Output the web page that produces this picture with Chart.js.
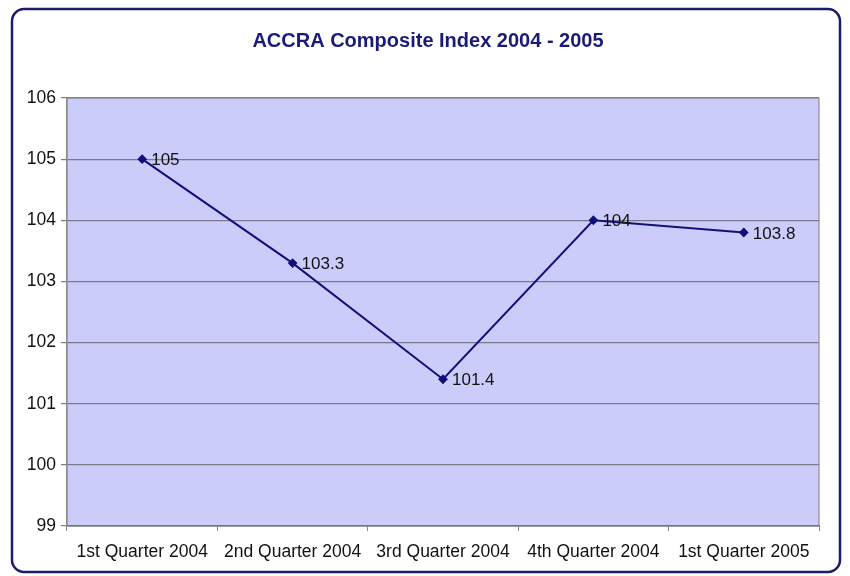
<!DOCTYPE html>
<html>
<head>
<meta charset="utf-8">
<style>
  html, body { margin: 0; padding: 0; background: #ffffff; }
  #wrap { width: 850px; height: 576px; position: relative; }
</style>
<script src="https://cdn.jsdelivr.net/npm/chart.js@4.4.0/dist/chart.umd.min.js"></script>
</head>
<body>
<div id="wrap"><canvas id="c" width="850" height="576"></canvas></div>
<script>
const chartTitle = "ACCRA Composite Index 2004 - 2005";
const categories = ["1st Quarter 2004", "2nd Quarter 2004", "3rd Quarter 2004", "4th Quarter 2004", "1st Quarter 2005"];
const indexValues = [105, 103.3, 101.4, 104, 103.8];
const yMin = 99;
const yMax = 106;
const yStep = 1;

const FONT = "Arial, 'Liberation Sans', sans-serif";

const frameAndArea = {
  id: 'frameAndArea',
  beforeDraw(chart) {
    const ctx = chart.ctx;
    const a = chart.chartArea;
    ctx.save();
    ctx.fillStyle = '#ffffff';
    ctx.fillRect(0, 0, chart.width, chart.height);
    ctx.fillStyle = '#ccccfa';
    ctx.fillRect(a.left, a.top, a.right - a.left, a.bottom - a.top);
    ctx.restore();
  },
  afterDraw(chart) {
    const ctx = chart.ctx;
    const a = chart.chartArea;
    ctx.save();
    ctx.strokeStyle = '#8a8a8a';
    ctx.lineWidth = 1.2;
    ctx.strokeRect(a.left, a.top, a.right - a.left, a.bottom - a.top);
    ctx.strokeStyle = '#1c1c6e';
    ctx.lineWidth = 2.5;
    ctx.beginPath();
    ctx.roundRect(12, 9, 828, 563, 12);
    ctx.stroke();
    // chart title, centred on the outer frame
    ctx.fillStyle = '#1a1a78';
    ctx.font = 'bold 20px ' + FONT;
    ctx.textAlign = 'center';
    ctx.textBaseline = 'middle';
    ctx.fillText(chartTitle, 428, 41);
    ctx.restore();
  }
};

const valueLabels = {
  id: 'valueLabels',
  afterDatasetsDraw(chart) {
    const ctx = chart.ctx;
    const meta = chart.getDatasetMeta(0);
    const data = chart.data.datasets[0].data;
    ctx.save();
    ctx.font = '17px ' + FONT;
    ctx.fillStyle = '#111111';
    ctx.textAlign = 'left';
    ctx.textBaseline = 'middle';
    meta.data.forEach((pt, i) => {
      ctx.fillText(String(data[i]), pt.x + 9, pt.y + 1.5);
    });
    ctx.restore();
  }
};

new Chart(document.getElementById('c'), {
  type: 'line',
  data: {
    labels: categories,
    datasets: [{
      data: indexValues,
      borderColor: '#10107c',
      backgroundColor: '#10107c',
      borderWidth: 2,
      pointStyle: 'rectRot',
      pointRadius: 3.5,
      pointHoverRadius: 3.5,
      tension: 0,
      fill: false
    }]
  },
  options: {
    responsive: false,
    animation: false,
    devicePixelRatio: 1,
    layout: { padding: { left: 0, right: 31, top: 98, bottom: 0 } },
    plugins: {
      legend: { display: false },
      tooltip: { enabled: false },
      title: { display: false }
    },
    scales: {
      x: {
        offset: true,
        grid: {
          offset: true,
          drawOnChartArea: false,
          drawTicks: true,
          tickLength: 5,
          color: '#8a8a8a'
        },
        border: { display: true, color: '#555555', width: 1.2 },
        ticks: {
          color: '#111111',
          font: { family: FONT, size: 17.5 },
          padding: 11,
          maxRotation: 0,
          autoSkip: false
        },
        afterFit(scale) { scale.height = 50; }
      },
      y: {
        min: yMin,
        max: yMax,
        grid: {
          color: '#7a7a8a',
          lineWidth: 1.2,
          drawTicks: true,
          tickLength: 6
        },
        border: { display: true, color: '#8a8a8a', width: 1.2 },
        ticks: {
          stepSize: yStep,
          color: '#111111',
          font: { family: FONT, size: 17.5 },
          padding: 5
        },
        afterFit(scale) { scale.width = 67; }
      }
    }
  },
  plugins: [frameAndArea, valueLabels]
});
</script>
</body>
</html>
